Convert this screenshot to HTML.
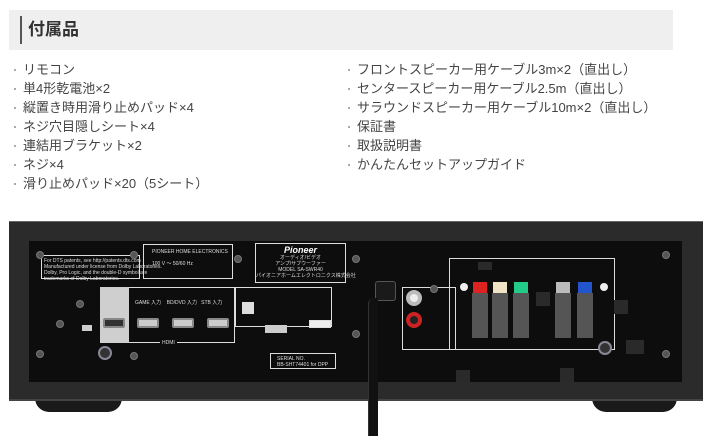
<!DOCTYPE html>
<html><head><meta charset="utf-8"><style>
*{margin:0;padding:0;box-sizing:border-box}
body{width:712px;height:436px;background:#fff;position:relative;overflow:hidden;font-family:"Liberation Sans","Noto Sans CJK JP",sans-serif}
.a{position:absolute}
.hd{left:9px;top:10px;width:664px;height:40px;background:#efefef}
.bar{left:20px;top:16px;width:2px;height:28px;background:#555}
.tt{left:28px;top:17px;font-size:17px;font-weight:bold;color:#333;line-height:26px}
.li{font-size:13px;color:#444;white-space:nowrap}
.li div{height:19px;line-height:19px;overflow:visible;position:relative;padding-left:13px}
.li div:before{content:"";position:absolute;left:4px;top:9px;width:2px;height:2px;background:#aaa}
.lbl{border:1px solid #ddd}
.t{font-size:5px;color:#ddd;line-height:6px;white-space:nowrap}
.sc{width:8px;height:8px;border-radius:50%;background:#555;border:1px solid #777}
.term{width:16px;height:45px;background:#555}
.hdmi{width:22px;height:10px;background:#ccc;border:2px solid #888;border-radius:2px}
</style></head><body>
<div class="a hd"></div><div class="a bar"></div>
<div class="a tt">付属品</div>
<div class="a li" style="left:10px;top:60px"><div>リモコン</div><div>単4形乾電池×2</div><div>縦置き時用滑り止めパッド×4</div><div>ネジ穴目隠しシート×4</div><div>連結用ブラケット×2</div><div>ネジ×4</div><div>滑り止めパッド×20（5シート）</div></div>
<div class="a li" style="left:344px;top:60px"><div>フロントスピーカー用ケーブル3m×2（直出し）</div><div>センタースピーカー用ケーブル2.5m（直出し）</div><div>サラウンドスピーカー用ケーブル10m×2（直出し）</div><div>保証書</div><div>取扱説明書</div><div>かんたんセットアップガイド</div></div>

<!-- feet -->
<div class="a" style="left:35px;top:398px;width:87px;height:14px;background:#1a1a1a;border-radius:0 0 40px 40px"></div>
<div class="a" style="left:592px;top:398px;width:85px;height:14px;background:#1a1a1a;border-radius:0 0 40px 40px"></div>
<!-- chassis -->
<div class="a" style="left:9px;top:221px;width:694px;height:180px;background:#2b2b2b;border-top:1px solid #666;border-bottom:2px solid #444"></div>
<div class="a" style="left:29px;top:241px;width:653px;height:141px;background:#0d0d0d"></div>
<!-- labels -->
<div class="a lbl" style="left:41px;top:255px;width:99px;height:24px"><div class="t" style="padding:2px">For DTS patents, see http://patents.dts.com<br>Manufactured under license from Dolby Laboratories.<br>Dolby, Pro Logic, and the double-D symbol are<br>trademarks of Dolby Laboratories.</div></div>
<div class="a lbl" style="left:143px;top:244px;width:90px;height:35px"><div class="t" style="padding:4px 8px">PIONEER HOME ELECTRONICS<br><br>100 V ～ 50/60 Hz</div></div>
<div class="a lbl" style="left:255px;top:243px;width:91px;height:40px;text-align:center"><div style="font-size:9px;font-weight:bold;font-style:italic;color:#fff;margin-top:1px">Pioneer</div><div class="t">オーディオ/ビデオ<br>アンプ/サブウーファー<br>MODEL SA-SWR40<br>パイオニアホームエレクトロニクス株式会社</div></div>
<div class="a lbl" style="left:100px;top:287px;width:135px;height:56px"></div>
<div class="a" style="left:100px;top:287px;width:29px;height:56px;background:#cfcfcf"></div>
<div class="a hdmi" style="left:103px;top:318px;background:#333"></div>
<div class="a hdmi" style="left:137px;top:318px"></div>
<div class="a hdmi" style="left:172px;top:318px"></div>
<div class="a hdmi" style="left:207px;top:318px"></div>
<div class="a t" style="left:135px;top:300px">GAME 入力&nbsp;&nbsp;&nbsp;&nbsp;BD/DVD 入力&nbsp;&nbsp;&nbsp;STB 入力</div>
<div class="a t" style="left:160px;top:340px;background:#0d0d0d;padding:0 2px">HDMI</div>
<div class="a lbl" style="left:235px;top:287px;width:97px;height:40px"></div>
<div class="a" style="left:242px;top:302px;width:12px;height:12px;background:#ddd"></div>
<div class="a" style="left:265px;top:325px;width:22px;height:8px;background:#ccc"></div>
<div class="a lbl" style="left:309px;top:320px;width:22px;height:8px;background:#eee"></div>
<div class="a" style="left:82px;top:325px;width:10px;height:6px;background:#ccc"></div>
<div class="a lbl" style="left:270px;top:353px;width:66px;height:16px"><div class="t" style="padding:2px 6px">SERIAL NO.<br>BB-SHT74401 for DPP</div></div>
<!-- analog -->
<div class="a lbl" style="left:402px;top:287px;width:54px;height:63px"></div>
<div class="a" style="left:406px;top:290px;width:16px;height:16px;border-radius:50%;background:#eee;border:4px solid #bbb"></div>
<div class="a" style="left:406px;top:312px;width:16px;height:16px;border-radius:50%;background:#222;border:4px solid #c22"></div>
<!-- speaker -->
<div class="a lbl" style="left:449px;top:258px;width:166px;height:92px"></div>
<div class="a" style="left:473px;top:282px;width:14px;height:11px;background:#d22"></div>
<div class="a" style="left:493px;top:282px;width:14px;height:11px;background:#eee3c4"></div>
<div class="a" style="left:514px;top:282px;width:14px;height:11px;background:#2c8"></div>
<div class="a" style="left:556px;top:282px;width:14px;height:11px;background:#bbb"></div>
<div class="a" style="left:578px;top:282px;width:14px;height:11px;background:#25c"></div>
<div class="a term" style="left:472px;top:293px"></div>
<div class="a term" style="left:492px;top:293px"></div>
<div class="a term" style="left:513px;top:293px"></div>
<div class="a term" style="left:555px;top:293px"></div>
<div class="a term" style="left:577px;top:293px"></div>
<div class="a" style="left:460px;top:283px;width:8px;height:8px;border-radius:50%;background:#eee"></div>
<div class="a" style="left:600px;top:283px;width:8px;height:8px;border-radius:50%;background:#eee"></div>
<div class="a" style="left:478px;top:262px;width:14px;height:8px;background:#2a2a2a"></div>
<div class="a" style="left:536px;top:292px;width:14px;height:14px;background:#2a2a2a"></div>
<div class="a" style="left:614px;top:300px;width:14px;height:14px;background:#2a2a2a"></div>
<div class="a" style="left:456px;top:370px;width:14px;height:12px;background:#2a2a2a"></div>
<div class="a" style="left:560px;top:368px;width:14px;height:14px;background:#2a2a2a"></div>
<div class="a" style="left:626px;top:340px;width:18px;height:14px;background:#2a2a2a"></div>
<!-- screws -->
<div class="a sc" style="left:36px;top:251px"></div><div class="a sc" style="left:130px;top:251px"></div>
<div class="a sc" style="left:234px;top:255px"></div><div class="a sc" style="left:352px;top:255px"></div>
<div class="a sc" style="left:36px;top:350px"></div><div class="a sc" style="left:130px;top:352px"></div>
<div class="a sc" style="left:662px;top:251px"></div><div class="a sc" style="left:662px;top:350px"></div>
<div class="a sc" style="left:56px;top:320px"></div><div class="a sc" style="left:76px;top:300px"></div>
<div class="a sc" style="left:352px;top:330px"></div><div class="a sc" style="left:430px;top:285px"></div>
<div class="a" style="left:98px;top:346px;width:14px;height:14px;border-radius:50%;background:#333;border:2px solid #889"></div>
<div class="a" style="left:598px;top:341px;width:14px;height:14px;border-radius:50%;background:#333;border:2px solid #889"></div>
<!-- cable -->
<div class="a" style="left:375px;top:281px;width:21px;height:20px;background:#1a1a1a;border:1px solid #555;border-radius:3px"></div>
<div class="a" style="left:368px;top:298px;width:10px;height:138px;background:#111;border-left:1px solid #333;border-radius:6px 0 0 0"></div>
</body></html>
